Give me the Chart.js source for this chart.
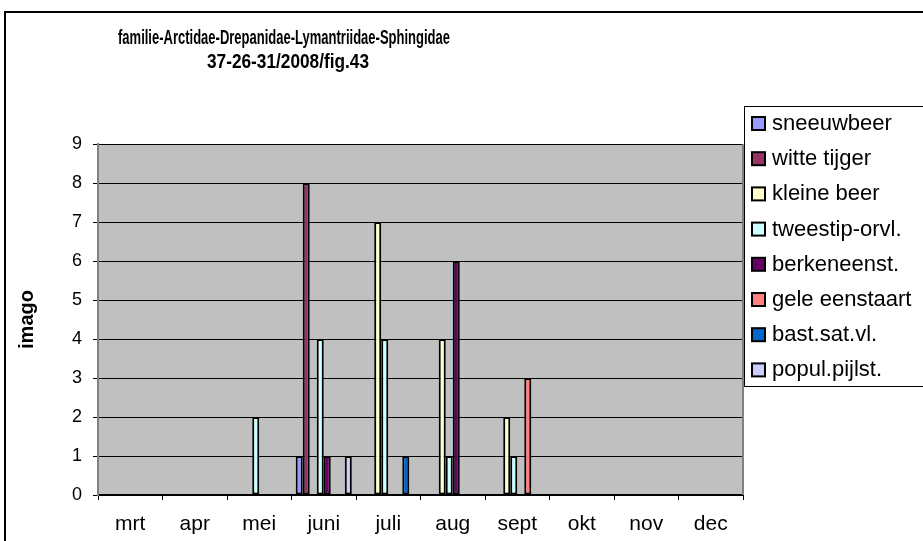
<!DOCTYPE html>
<html>
<head>
<meta charset="utf-8">
<script src="https://cdn.jsdelivr.net/npm/chart.js@4/dist/chart.umd.min.js"></script>
<style>
  html, body { margin: 0; padding: 0; background: #fff; }
  canvas { display: block; }
</style>
</head>
<body>
<canvas id="chart" width="923" height="541"></canvas>
<script>
// months on the x axis
const months = ["mrt", "apr", "mei", "juni", "juli", "aug", "sept", "okt", "nov", "dec"];

// counts per species (imago)
const sneeuwbeer     = [0, 0, 0, 1, 0, 0, 0, 0, 0, 0];
const witteTijger    = [0, 0, 0, 8, 0, 0, 0, 0, 0, 0];
const kleineBeer     = [0, 0, 0, 0, 7, 4, 2, 0, 0, 0];
const tweestipOrvl   = [0, 0, 2, 4, 4, 1, 1, 0, 0, 0];
const berkeneenst    = [0, 0, 0, 1, 0, 6, 0, 0, 0, 0];
const geleEenstaart  = [0, 0, 0, 0, 0, 0, 3, 0, 0, 0];
const bastSatVl      = [0, 0, 0, 0, 1, 0, 0, 0, 0, 0];
const populPijlst    = [0, 0, 0, 1, 0, 0, 0, 0, 0, 0];

const seriesNames = ["sneeuwbeer", "witte tijger", "kleine beer", "tweestip-orvl.",
  "berkeneenst.", "gele eenstaart", "bast.sat.vl.", "popul.pijlst."];
const seriesData = [sneeuwbeer, witteTijger, kleineBeer, tweestipOrvl,
  berkeneenst, geleEenstaart, bastSatVl, populPijlst];
const seriesColors = ["#9999FF", "#993366", "#FFFFCC", "#CCFFFF",
  "#660066", "#FF8080", "#0066CC", "#CCCCFF"];

const titleLines = ["familie-Arctidae-Drepanidae-Lymantriidae-Sphingidae", "37-26-31/2008/fig.43"];
const yMax = 9;

const FONT = "'Liberation Sans', Arial, sans-serif";

// white page, outer frame and grey plot area
const frame = {
  id: "frame",
  beforeDraw(chart) {
    const { ctx, chartArea: a } = chart;
    ctx.save();
    ctx.fillStyle = "#fff";
    ctx.fillRect(0, 0, chart.width, chart.height);
    ctx.strokeStyle = "#000";
    ctx.lineWidth = 2;
    ctx.strokeRect(5, 12, chart.width + 10, chart.height + 10);
    ctx.fillStyle = "#C0C0C0";
    ctx.fillRect(a.left, a.top, a.right - a.left, a.bottom - a.top);
    ctx.restore();
  },
  afterDatasetsDraw(chart) {
    const { ctx, chartArea: a } = chart;
    ctx.save();
    ctx.strokeStyle = "#808080";
    ctx.lineWidth = 2;
    ctx.beginPath();
    ctx.moveTo(a.right, a.top);
    ctx.lineTo(a.right, a.bottom);
    ctx.stroke();
    ctx.restore();
  }
};

// title placed like the original, left of centre and condensed
function squeezedText(ctx, text, cx, cy, width) {
  const w = ctx.measureText(text).width;
  ctx.save();
  ctx.translate(cx, cy);
  ctx.scale(width / w, 1);
  ctx.fillText(text, 0, 0);
  ctx.restore();
}

const titleDraw = {
  id: "titleDraw",
  afterDraw(chart) {
    const ctx = chart.ctx;
    ctx.save();
    ctx.fillStyle = "#000";
    ctx.font = "bold 21px " + FONT;
    ctx.textAlign = "center";
    ctx.textBaseline = "middle";
    squeezedText(ctx, titleLines[0], 284, 38, 332);
    squeezedText(ctx, titleLines[1], 288, 62, 162);
    ctx.restore();
  }
};

// boxed legend on the right, cut off by the edge
const boxLegend = {
  id: "boxLegend",
  afterDraw(chart) {
    const ctx = chart.ctx;
    const x = 744, y = 106, h = 280;
    ctx.save();
    ctx.fillStyle = "#fff";
    ctx.fillRect(x, y, 200, h);
    ctx.strokeStyle = "#000";
    ctx.lineWidth = 1;
    ctx.strokeRect(x + 0.5, y + 0.5, 200, h);
    ctx.font = "22px " + FONT;
    ctx.textBaseline = "middle";
    chart.data.datasets.forEach((ds, i) => {
      const cy = 123 + i * 35.2;
      ctx.fillStyle = ds.backgroundColor;
      ctx.fillRect(752, cy - 6, 13, 13);
      ctx.strokeStyle = "#000";
      ctx.lineWidth = 2;
      ctx.strokeRect(752, cy - 6, 13, 13);
      ctx.fillStyle = "#000";
      ctx.fillText(ds.label, 772, cy + 1);
    });
    ctx.restore();
  }
};

new Chart(document.getElementById("chart"), {
  type: "bar",
  data: {
    labels: months,
    datasets: seriesNames.map((name, i) => ({
      label: name,
      data: seriesData[i].map(v => v || null),
      backgroundColor: seriesColors[i],
      borderColor: "#000",
      borderWidth: 2,
      borderSkipped: false,
      barPercentage: 1,
      categoryPercentage: 0.87
    }))
  },
  options: {
    responsive: false,
    animation: false,
    layout: { padding: { left: 0, top: 144, right: 180, bottom: 0 } },
    plugins: {
      legend: { display: false },
      title: { display: false },
      tooltip: { enabled: false }
    },
    scales: {
      x: {
        afterFit(scale) { scale.height = 46; },
        grid: { drawOnChartArea: false, color: "#000", tickLength: 5, offset: true },
        border: { color: "#000", width: 2 },
        ticks: { color: "#000", font: { family: FONT, size: 21 }, padding: 12, maxRotation: 0 }
      },
      y: {
        min: 0,
        max: yMax,
        afterFit(scale) { scale.width = 98; },
        grid: { color: "#000", lineWidth: 1, tickLength: 5 },
        border: { color: "#808080", width: 2 },
        ticks: { stepSize: 1, color: "#000", font: { family: FONT, size: 18 }, padding: 11 },
        title: {
          display: true,
          text: "imago",
          color: "#000",
          font: { family: FONT, size: 20, weight: "bold" },
          padding: { top: 15, bottom: 0 }
        }
      }
    }
  },
  plugins: [frame, titleDraw, boxLegend]
});
</script>
</body>
</html>
